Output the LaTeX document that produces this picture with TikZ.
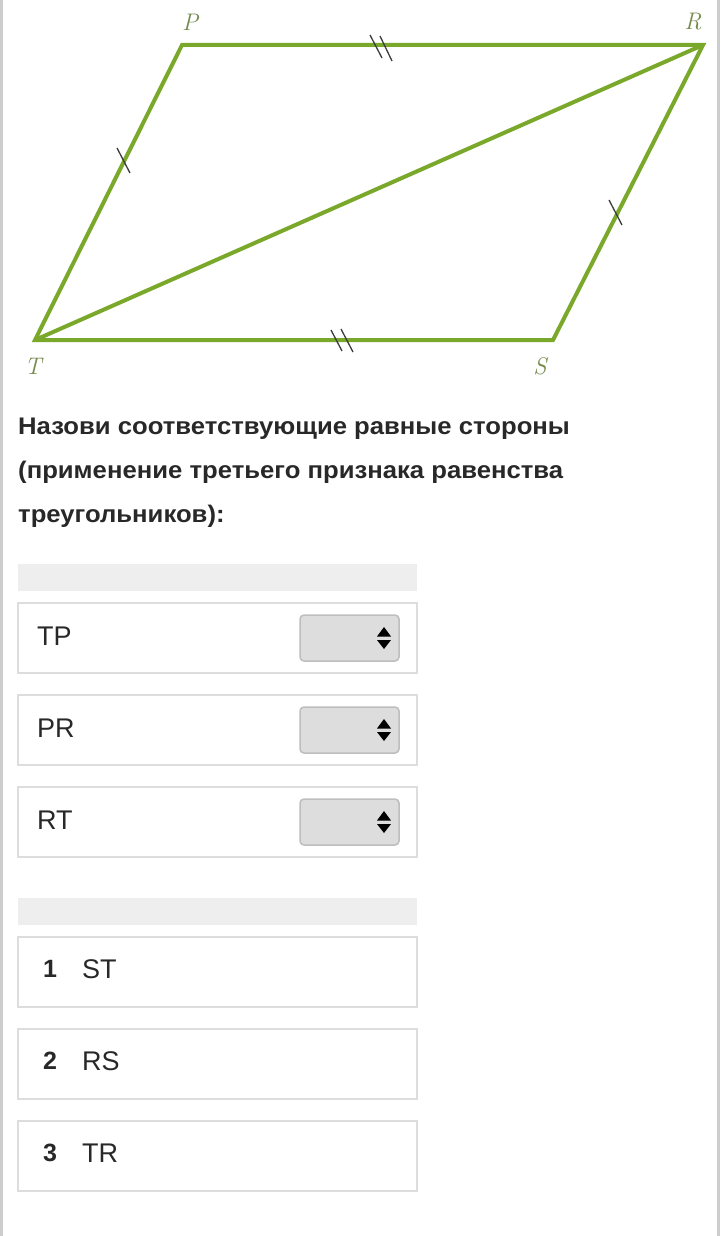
\documentclass[tikz,border=0pt]{standalone}
\usepackage{fontspec}
\newfontfamily\uifont{Liberation Sans}
\newfontfamily\qfont[FakeStretch=1.07]{Liberation Sans}
\usetikzlibrary{calc}
\definecolor{geo}{RGB}{122,168,42}
\definecolor{lbl}{RGB}{118,140,78}
\definecolor{tick}{RGB}{60,60,60}
\definecolor{barg}{RGB}{238,238,238}
\definecolor{boxb}{RGB}{221,221,221}
\definecolor{selfill}{RGB}{221,221,221}
\definecolor{selb}{RGB}{190,190,190}
\definecolor{txt}{RGB}{40,40,40}
\definecolor{edge}{RGB}{205,205,205}
\begin{document}
\begin{tikzpicture}[x=1pt,y=-1pt,
  side/.style={draw=geo,line width=4pt,line join=miter},
  tickmark/.style={draw=tick,line width=1.3pt},
  vlabel/.style={text=lbl,font=\fontsize{24}{24}\selectfont\rmfamily\itshape},
  bar/.style={fill=barg,draw=none,minimum width=399pt,minimum height=27pt,inner sep=0pt,outer sep=0pt},
  ansbox/.style={draw=boxb,line width=2pt,fill=white,minimum width=399pt,minimum height=70pt,inner sep=0pt,outer sep=0pt},
  sel/.style={draw=selb,line width=1.5pt,fill=selfill,rounded corners=4pt,minimum width=99pt,minimum height=46pt,inner sep=0pt},
  itemtxt/.style={anchor=base west,inner sep=0pt,text=txt,font=\uifont\fontsize{27}{27}\selectfont},
  numtxt/.style={anchor=base west,inner sep=0pt,text=txt,font=\uifont\bfseries\fontsize{25}{25}\selectfont},
  qtxt/.style={anchor=base west,inner sep=0pt,text=txt,font=\qfont\bfseries\fontsize{24}{24}\selectfont}]
\useasboundingbox (0,0) rectangle (720,1236);
\fill[white] (0,0) rectangle (720,1236);
\fill[edge] (0,0) rectangle (2.5,1236);
\fill[edge] (717,0) rectangle (720,1236);

% parallelogram
\coordinate (P) at (182,45);
\coordinate (R) at (703,45);
\coordinate (T) at (35,340);
\coordinate (S) at (553,340);
\draw[side] (T) -- (P) -- (R) -- (S) -- cycle;
\draw[side] (T) -- (R);

% tick marks
\draw[tickmark] (117,148) -- (130,173);
\draw[tickmark] (609,200) -- (622,225);
\draw[tickmark] (370,35) -- (382,58);
\draw[tickmark] (380,36) -- (392,61);
\draw[tickmark] (331,330) -- (342,351);
\draw[tickmark] (341,329) -- (353,352);

% vertex labels
\node[vlabel] (lP) at (190,22) {P};
\node[vlabel] (lR) at (693,22) {R};
\node[vlabel] (lT) at (33,366) {T};
\node[vlabel] (lS) at (540,366) {S};

% question
\node[qtxt] (q1) at (18,434) {Назови соответствующие равные стороны};
\node[qtxt] (q2) at (18,478) {(применение третьего признака равенства};
\node[qtxt] (q3) at (18,522) {треугольников):};

% first group
\node[bar] (bar1) at (217.5,577.5) {};
\node[ansbox] (b1) at (217.5,638) {};
\node[ansbox] (b2) at (217.5,730) {};
\node[ansbox] (b3) at (217.5,822) {};
\foreach \n/\t/\y in {s1/TP/638, s2/PR/730, s3/RT/822}{
  \node[itemtxt] at (37,\y+7) {\t};
  \node[sel] (\n) at (349.5,\y) {};
  \fill[black] ($(\n.center)+(27.5,-1.5)$) -- ($(\n.center)+(41.5,-1.5)$) -- ($(\n.center)+(34.5,-11)$) -- cycle;
  \fill[black] ($(\n.center)+(27.5,2)$) -- ($(\n.center)+(41.5,2)$) -- ($(\n.center)+(34.5,11)$) -- cycle;
}

% second group
\node[bar] (bar2) at (217.5,911.5) {};
\node[ansbox] (c1) at (217.5,972) {};
\node[ansbox] (c2) at (217.5,1064) {};
\node[ansbox] (c3) at (217.5,1156) {};
\foreach \num/\t/\y in {1/ST/972, 2/RS/1064, 3/TR/1156}{
  \node[numtxt] at (43,\y+5) {\num};
  \node[itemtxt] at (82,\y+6) {\t};
}
\end{tikzpicture}
\end{document}
